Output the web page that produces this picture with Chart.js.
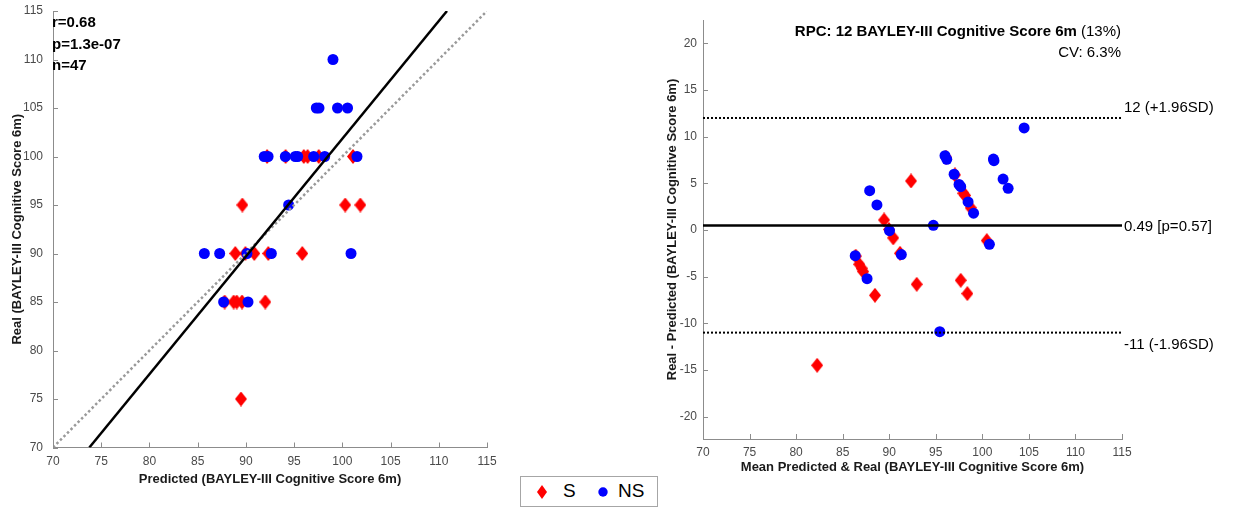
<!DOCTYPE html>
<html>
<head>
<meta charset="utf-8">
<script src="https://cdn.jsdelivr.net/npm/chart.js@4.4.1/dist/chart.umd.min.js"></script>
<style>
  html, body { margin: 0; padding: 0; background: #fff; }
  body { width: 1233px; height: 508px; position: relative; overflow: hidden; font-family: Arial, "Liberation Sans", sans-serif; }
  #leftWrap { position: absolute; left: 0; top: 0; width: 500px; height: 508px; }
  #rightWrap { position: absolute; left: 640px; top: 0; width: 593px; height: 508px; }
  .legend { position: absolute; left: 520px; top: 476px; width: 136px; height: 29px; border: 1px solid #a6a6a6; background: #fff; }
  .legend svg { position: absolute; }
  .legend span { position: absolute; top: 2px; font-size: 19px; color: #000; line-height: 24px; }
</style>
</head>
<body>
<div id="leftWrap"><canvas id="corrChart" width="500" height="508"></canvas></div>
<div id="rightWrap"><canvas id="baChart" width="593" height="508"></canvas></div>
<div class="legend">
  <svg style="left:16px;top:8px" width="10" height="14"><polygon points="5,0 10,7 5,14 0,7" fill="#ff0000"/></svg>
  <span style="left:42px">S</span>
  <svg style="left:77px;top:10px" width="10" height="10"><circle cx="5" cy="5" r="4.7" fill="#0000ff"/></svg>
  <span style="left:97px">NS</span>
</div>
<script>
// ---- data: predicted vs real (left panel) ----
const predS = [92.2, 94.12, 96.0, 96.4, 97.55, 101.1, 89.63, 100.3, 101.87, 88.9, 89.95, 90.87, 92.32, 95.85, 87.8, 88.73, 89.05, 89.6, 92.01, 89.49];
const realS = [100, 100, 100, 100, 100, 100, 95, 95, 95, 90, 90, 90, 90, 90, 85, 85, 85, 85, 85, 75];
const predNS = [99.03, 97.3, 97.58, 99.5, 100.54, 91.9, 92.3, 94.09, 95.12, 95.37, 97.03, 98.17, 101.52, 94.43, 85.69, 87.28, 90.11, 92.64, 100.9, 87.69, 90.22];
const realNS = [110, 105, 105, 105, 105, 100, 100, 100, 100, 100, 100, 100, 100, 95, 90, 90, 90, 90, 90, 85, 85];
const fitX = [73.77, 110.85];
const fitY = [70, 115];
const identityXY = [70, 115];
const statLines = ['r=0.68', 'p=1.3e-07', 'n=47'];

// ---- data: Bland-Altman (right panel) ----
const baMeanS = [92.34, 89.45, 90.43, 91.16, 86.78, 87.03, 87.2, 88.47, 92.95, 97.68, 98.39, 100.48, 82.26, 97.96, 98.75, 97.06, 96.1, 98.15, 86.4, 89.97];
const baDiffS = [5.25, 1.07, -0.85, -2.5, -3.68, -4.1, -4.46, -7.0, -5.82, -5.39, -6.82, -1.14, -14.5, 3.93, 2.38, 5.9, 7.8, 3.7, -2.8, 0.05];
const baMeanNS = [104.49, 95.99, 96.18, 87.9, 88.68, 96.97, 97.5, 97.68, 98.47, 99.06, 101.19, 101.25, 102.23, 102.77, 94.74, 90.03, 91.3, 86.35, 87.62, 100.76, 95.43];
const baDiffNS = [10.93, 7.96, 7.57, 4.21, 2.68, 5.97, 4.88, 4.64, 3.0, 1.8, 7.6, 7.43, 5.46, 4.46, 0.5, -0.08, -2.64, -2.75, -5.22, -1.54, -10.9];
const limitValues = [12.0, 0.49, -11.0];
const limitLabels = ['12 (+1.96SD)', '0.49 [p=0.57]', '-11 (-1.96SD)'];
const baTitle = 'RPC: 12 BAYLEY-III Cognitive Score 6m';
const baTitlePct = ' (13%)';
const baCV = 'CV: 6.3%';

const FONT = 'Arial, "Liberation Sans", sans-serif';
const AXIS_COLOR = '#8c8c8c';
const TICK_COLOR = '#4a4a4a';
const RED = '#ff0000';
const BLUE = '#0000ff';

function diamondImage(w, h, color) {
    const c = document.createElement('canvas');
    c.width = w;
    c.height = h;
    const g = c.getContext('2d');
    g.fillStyle = color;
    g.beginPath();
    g.moveTo(w / 2, 0);
    g.lineTo(w, h / 2);
    g.lineTo(w / 2, h);
    g.lineTo(0, h / 2);
    g.closePath();
    g.fill();
    return c;
}
const diamond = diamondImage(12, 15, RED);

function toPoints(xs, ys) {
    return xs.map((x, i) => ({ x: x, y: ys[i] }));
}

function pointSet(label, xs, ys, color, order) {
    return {
        label: label,
        data: toPoints(xs, ys),
        pointStyle: color === RED ? diamond : 'circle',
        pointRadius: 5.5,
        pointBorderWidth: 0,
        backgroundColor: color,
        borderColor: color,
        order: order
    };
}

function lineSet(xs, ys, color, width, dash) {
    return {
        data: toPoints(xs, ys),
        showLine: true,
        pointRadius: 0,
        borderColor: color,
        borderWidth: width,
        borderDash: dash,
        order: 0
    };
}

function axisScale(position, min, max, size, tickPad, title, titlePad) {
    return {
        type: 'linear',
        position: position,
        min: min,
        max: max,
        afterFit: function(scale) {
            if (position === 'left') scale.width = size;
            else scale.height = size;
            // let layout padding alone decide the plot box
            scale.paddingLeft = 0;
            scale.paddingRight = 0;
            scale.paddingTop = 0;
            scale.paddingBottom = 0;
        },
        afterBuildTicks: function(scale) {
            scale.ticks = scale.ticks.filter(t => Math.abs(t.value % 5) < 1e-9);
        },
        ticks: {
            stepSize: 5,
            autoSkip: false,
            maxRotation: 0,
            padding: tickPad,
            color: TICK_COLOR,
            font: { family: FONT, size: 12 }
        },
        grid: { drawOnChartArea: false, drawTicks: false, color: AXIS_COLOR },
        border: { color: AXIS_COLOR, width: 1 },
        title: {
            display: true,
            text: title,
            color: '#1a1a1a',
            font: { family: FONT, size: 13, weight: 'bold' },
            padding: titlePad
        }
    };
}

// MATLAB-style tick marks pointing into the plot
const innerTicks = {
    id: 'innerTicks',
    afterDraw(chart) {
        const ctx = chart.ctx;
        const area = chart.chartArea;
        ctx.save();
        ctx.strokeStyle = AXIS_COLOR;
        ctx.lineWidth = 1;
        ctx.beginPath();
        chart.scales.x.ticks.forEach(t => {
            const px = Math.round(chart.scales.x.getPixelForValue(t.value)) + 0.5;
            ctx.moveTo(px, area.bottom);
            ctx.lineTo(px, area.bottom - 5);
        });
        chart.scales.y.ticks.forEach(t => {
            const py = Math.round(chart.scales.y.getPixelForValue(t.value)) + 0.5;
            ctx.moveTo(area.left, py);
            ctx.lineTo(area.left + 5, py);
        });
        ctx.stroke();
        ctx.restore();
    }
};

const baseOptions = {
    responsive: false,
    animation: false,
    plugins: { legend: { display: false }, tooltip: { enabled: false } }
};

const statsPlugin = {
    id: 'stats',
    afterDraw(chart) {
        const ctx = chart.ctx;
        ctx.save();
        ctx.font = 'bold 15px ' + FONT;
        ctx.fillStyle = '#000';
        ctx.textBaseline = 'middle';
        statLines.forEach((t, i) => ctx.fillText(t, 52, 23 + i * 21.5));
        ctx.restore();
    }
};

const baTextPlugin = {
    id: 'baText',
    afterDraw(chart) {
        const ctx = chart.ctx;
        const right = 481;
        ctx.save();
        ctx.fillStyle = '#000';
        ctx.textBaseline = 'middle';
        ctx.textAlign = 'right';
        ctx.font = '15px ' + FONT;
        const pctW = ctx.measureText(baTitlePct).width;
        ctx.fillText(baTitlePct, right, 32);
        ctx.fillText(baCV, right, 53);
        ctx.font = 'bold 15px ' + FONT;
        ctx.fillText(baTitle, right - pctW, 32);

        ctx.textAlign = 'left';
        ctx.font = '15px ' + FONT;
        const offsets = [-10, 1, 12];
        limitValues.forEach((v, i) => {
            const y = chart.scales.y.getPixelForValue(v);
            ctx.fillText(limitLabels[i], chart.chartArea.right + 2, y + offsets[i]);
        });
        ctx.restore();
    }
};

new Chart(document.getElementById('corrChart'), {
    type: 'scatter',
    data: {
        datasets: [
            lineSet(fitX, fitY, '#000000', 2.5, []),
            lineSet(identityXY, identityXY, '#9a9a9a', 2.5, [2.5, 2.5]),
            pointSet('NS', predNS, realNS, BLUE, 1),
            pointSet('S', predS, realS, RED, 2)
        ]
    },
    options: Object.assign({}, baseOptions, {
        layout: { padding: { top: 11, right: 13, left: 0, bottom: 0 } },
        scales: {
            x: axisScale('bottom', 70, 115, 60.5, 7, 'Predicted (BAYLEY-III Cognitive Score 6m)', { top: 0, bottom: 21 }),
            y: axisScale('left', 70, 115, 53, 10, 'Real (BAYLEY-III Cognitive Score 6m)', { top: 10, bottom: 0 })
        }
    }),
    plugins: [statsPlugin, innerTicks]
});

new Chart(document.getElementById('baChart'), {
    type: 'scatter',
    data: {
        datasets: [
            lineSet([70, 115], [limitValues[0], limitValues[0]], '#000000', 2, [2, 2]),
            lineSet([70, 115], [limitValues[1], limitValues[1]], '#000000', 2.5, []),
            lineSet([70, 115], [limitValues[2], limitValues[2]], '#000000', 2, [2, 2]),
            pointSet('NS', baMeanNS, baDiffNS, BLUE, 1),
            pointSet('S', baMeanS, baDiffS, RED, 2)
        ]
    },
    options: Object.assign({}, baseOptions, {
        layout: { padding: { top: 20, right: 111, left: 0, bottom: 0 } },
        scales: {
            x: axisScale('bottom', 70, 115, 69, 6, 'Mean Predicted & Real (BAYLEY-III Cognitive Score 6m)', { top: 0, bottom: 33 }),
            y: axisScale('left', -22.4, 22.5, 63, 6, 'Real - Predicted (BAYLEY-III Cognitive Score 6m)', { top: 25, bottom: 0 })
        }
    }),
    plugins: [baTextPlugin, innerTicks]
});
</script>
</body>
</html>
